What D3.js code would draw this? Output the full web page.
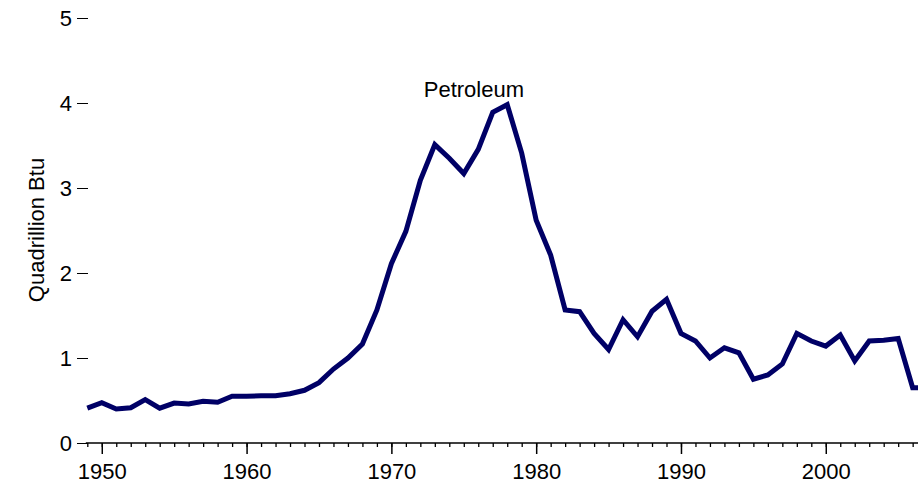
<!DOCTYPE html>
<html>
<head>
<meta charset="utf-8">
<script src="https://cdn.jsdelivr.net/npm/d3@7"></script>
<style>
  html, body { margin: 0; padding: 0; background: #fff; }
  svg { display: block; }
  text { font-family: "Liberation Sans", Arial, sans-serif; }
</style>
</head>
<body>
<svg id="chart" width="918" height="482"></svg>
<script>
const years = d3.range(1949, 2008);
const petroleum = [
  0.41, 0.475, 0.40, 0.415, 0.51, 0.41, 0.47, 0.46, 0.49, 0.48,
  0.55, 0.55, 0.555, 0.556, 0.58, 0.62, 0.71, 0.87, 1.00, 1.165,
  1.565, 2.11, 2.49, 3.09, 3.51, 3.35, 3.17, 3.455, 3.89, 3.98,
  3.41, 2.62, 2.21, 1.565, 1.545, 1.29, 1.10, 1.45, 1.25, 1.55,
  1.69, 1.29, 1.20, 1.00, 1.12, 1.06, 0.75, 0.80, 0.93, 1.29,
  1.20, 1.14, 1.27, 0.965, 1.20, 1.21, 1.23, 0.65, 0.65
];
const xMajorTicks = [1950, 1960, 1970, 1980, 1990, 2000];
const yTicks = [0, 1, 2, 3, 4, 5];
const seriesLabel = "Petroleum";
const yTitle = "Quadrillion Btu";

const svg = d3.select("#chart");
const x = d3.scaleLinear().domain([1949, 2007]).range([87.3, 87.3 + 58 * 14.48]);
const y = d3.scaleLinear().domain([0, 5]).range([443, 18]);

// x axis: minor ticks
const gMinor = svg.append("g").attr("transform", "translate(0,443)")
  .call(d3.axisBottom(x).tickValues(years).tickSize(4).tickFormat(""));
gMinor.select(".domain").remove();
gMinor.selectAll("line").attr("stroke", "#000").attr("stroke-width", 1.3);

// x axis: major
const gX = svg.append("g").attr("transform", "translate(0,443)")
  .call(d3.axisBottom(x).tickValues(xMajorTicks).tickSize(11).tickPadding(9).tickSizeOuter(0).tickFormat(d3.format("d")));
gX.select(".domain").attr("stroke", "#000").attr("stroke-width", 1.6)
  .attr("d", `M${x(1949) - 1.5},0H${x(2007) + 20}`);
gX.selectAll("line").attr("stroke", "#000").attr("stroke-width", 1.5);
gX.selectAll("text").attr("font-size", 22).attr("fill", "#000")
  .style("font-family", "'Liberation Sans', Arial, sans-serif");

// y axis
const gY = svg.append("g").attr("transform", "translate(88,0)")
  .call(d3.axisLeft(y).tickValues(yTicks).tickSize(11).tickPadding(5).tickFormat(d3.format("d")));
gY.select(".domain").remove();
gY.selectAll("line").attr("stroke", "#000").attr("stroke-width", 1);
gY.selectAll("text").attr("font-size", 22).attr("fill", "#000")
  .style("font-family", "'Liberation Sans', Arial, sans-serif");

// y title
svg.append("text")
  .attr("transform", "translate(44,230) rotate(-90)")
  .attr("text-anchor", "middle")
  .attr("font-size", 22)
  .attr("fill", "#000")
  .text(yTitle);

// line
const line = d3.line().x((d, i) => x(years[i])).y(d => y(d));
svg.append("path")
  .datum(petroleum)
  .attr("fill", "none")
  .attr("stroke", "#000066")
  .attr("stroke-width", 5)
  .attr("stroke-linejoin", "miter")
  .attr("d", line);

// label
svg.append("text")
  .attr("x", x(1975.7))
  .attr("y", y(4.07))
  .attr("text-anchor", "middle")
  .attr("font-size", 22)
  .attr("fill", "#000")
  .text(seriesLabel);
</script>
</body>
</html>
